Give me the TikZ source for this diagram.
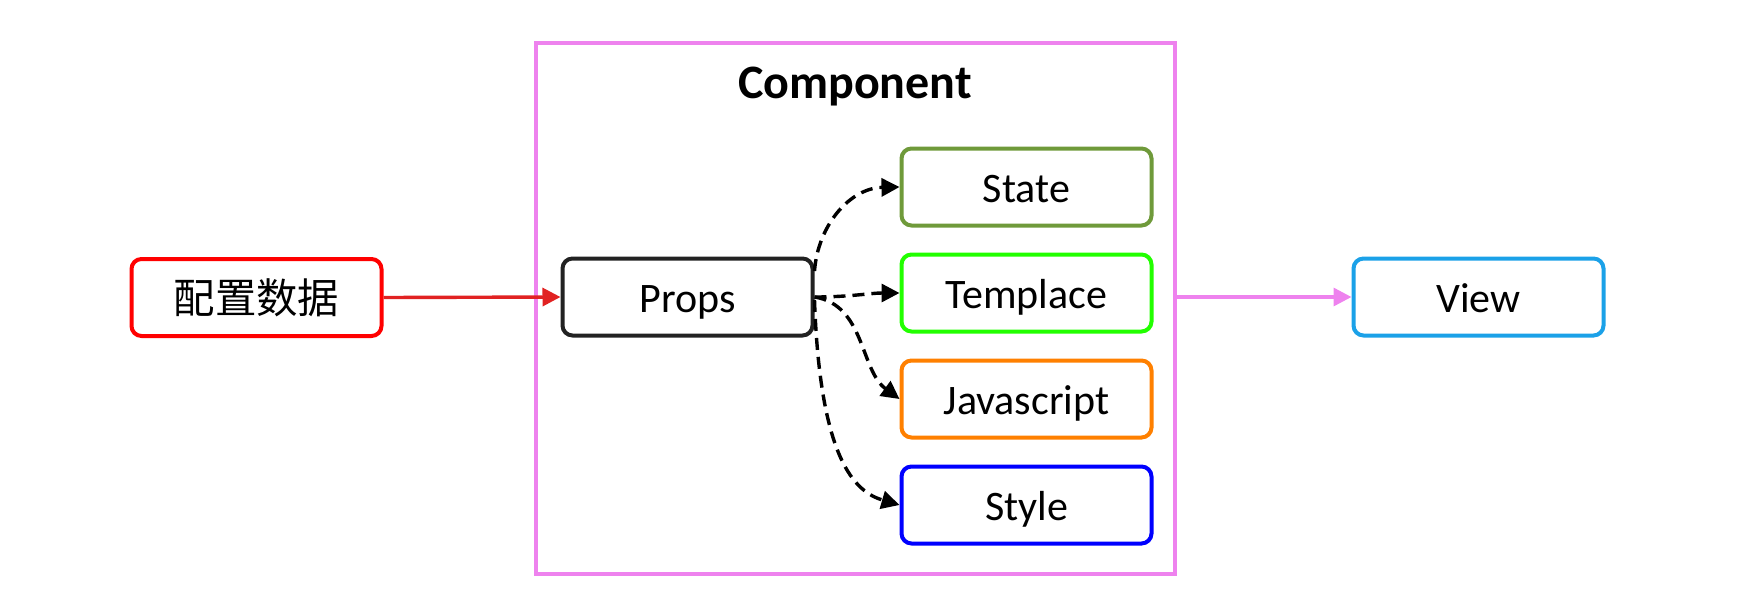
\documentclass[tikz,border=0pt]{standalone}
\usepackage{fontspec}
\setmainfont{Carlito}
\newfontfamily\cjkfont{Noto Sans CJK SC}
\usetikzlibrary{arrows.meta}
\definecolor{cfgred}{HTML}{FF0000}
\definecolor{arrred}{HTML}{E12222}
\definecolor{propsblack}{HTML}{222222}
\definecolor{stategreen}{HTML}{6F9A3A}
\definecolor{templgreen}{HTML}{22FF00}
\definecolor{jsorange}{HTML}{FF8000}
\definecolor{styleblue}{HTML}{0000FF}
\definecolor{viewblue}{HTML}{1BA1E8}
\definecolor{framepink}{HTML}{EE82EE}
\tikzset{
  box/.style={draw, line width=2pt, rounded corners=5pt, minimum width=125pt,
    minimum height=38.5pt, inner sep=0pt, fill=white},
  lattxt/.style={font=\fontsize{21}{25}\selectfont, text height=17.5pt, text depth=1.7pt},
  dasharrow/.style={line width=1.7pt, dash pattern=on 6pt off 3.5pt,
    -{Triangle[length=9pt,width=9pt]}},
  solidarrow/.style={line width=1.7pt, -{Triangle[length=9pt,width=9pt]}},
}
\begin{document}
\begin{tikzpicture}[x=0.5pt,y=-0.5pt]
\useasboundingbox (0,0) rectangle (1752,606);
\node[draw=framepink, line width=2pt, minimum width=319.5pt, minimum height=265.5pt, inner sep=0pt]
  (frame) at (855,308.5) {};
\node[font=\fontsize{24}{28}\selectfont\bfseries] (title) at (855,87) {Component};
\node[box, draw=cfgred, font=\cjkfont\fontsize{20.7}{24}\selectfont] (cfg) at (256.5,297.5) {配置数据};
\node[box, lattxt, draw=propsblack] (props) at (687.5,297) {Props};
\node[box, lattxt, draw=stategreen] (state) at (1026.5,187) {State};
\node[box, lattxt, draw=templgreen] (templ) at (1026.5,293) {Templace};
\node[box, lattxt, draw=jsorange] (js) at (1026.5,399) {Javascript};
\node[box, lattxt, draw=styleblue] (style) at (1026.5,505) {Style};
\node[box, lattxt, draw=viewblue] (view) at (1478.5,297) {View};
\draw[solidarrow, draw=arrred, fill=arrred] (cfg.east) -- (props.west);
\draw[solidarrow, draw=framepink, fill=framepink] (frame.east |- view.west) -- (view.west);
\draw[dasharrow] ([yshift=13pt]props.east) .. controls (818,225) and (850,188) .. (state.west);
\draw[dasharrow] (props.east) .. controls (850,297) and (870,293) .. (templ.west);
\draw[dasharrow] (props.east) .. controls (865,305) and (860,370) .. (js.west);
\draw[dasharrow] ([yshift=-1.5pt]props.east) .. controls (820,460) and (855,492) .. (style.west);
\end{tikzpicture}
\end{document}
